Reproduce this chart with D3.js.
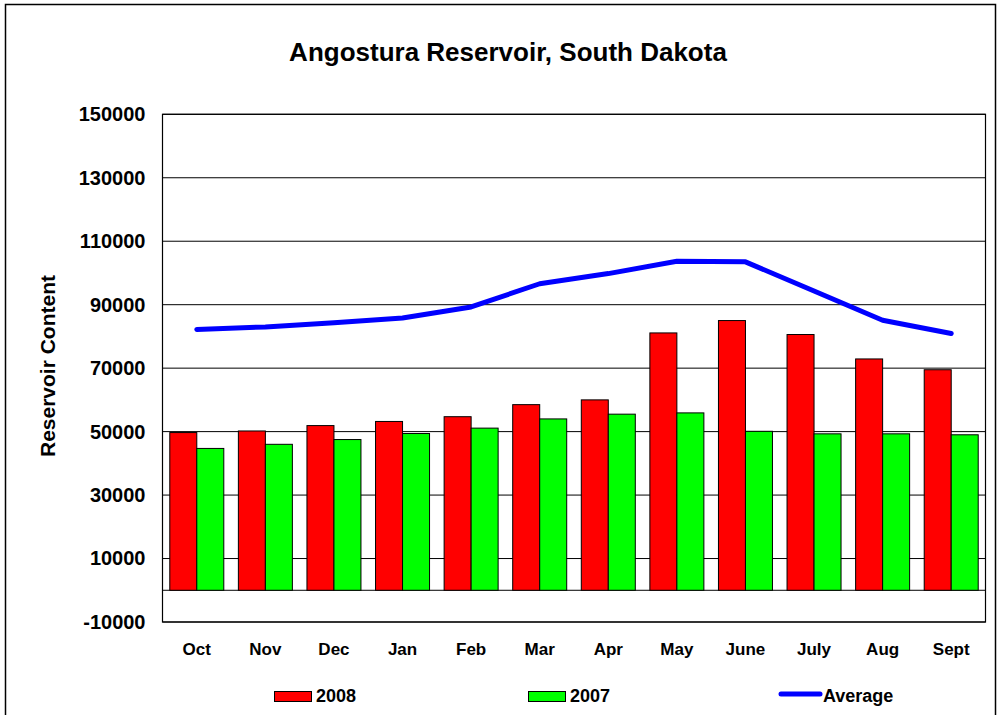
<!DOCTYPE html>
<html>
<head>
    <meta charset="utf-8">
    <script src="https://d3js.org/d3.v7.min.js"></script>
    <style>
        body { margin: 0; background: #fff; font-family: 'Liberation Sans', Arial, sans-serif; }
        svg { display: block; }
        text { font-weight: bold; fill: #000; }
    </style>
</head>
<body>
<div id="chart"></div>
<script>
    var months = ["Oct", "Nov", "Dec", "Jan", "Feb", "Mar", "Apr", "May", "June", "July", "Aug", "Sept"];
    var v2008 = [49700, 50200, 51900, 53200, 54700, 58500, 60000, 81100, 85000, 80600, 72900, 69500];
    var v2007 = [44700, 46000, 47500, 49400, 51100, 54000, 55500, 55900, 50100, 49300, 49300, 49000];
    var average = [82200, 83000, 84300, 85800, 89300, 96600, 99800, 103700, 103500, 94300, 85100, 80900];
    var yTicks = [-10000, 10000, 30000, 50000, 70000, 90000, 110000, 130000, 150000];
    var seriesNames = ["2008", "2007"];

    var W = 998, H = 715;
    var plot = {left: 162.5, right: 985.5, top: 114.3, bottom: 622};

    var svg = d3.select("#chart").append("svg")
        .attr("width", W)
        .attr("height", H);

    // outer frame
    svg.append("rect")
        .attr("x", 5.5).attr("y", 4.5)
        .attr("width", 990).attr("height", 720)
        .attr("fill", "none").attr("stroke", "#000").attr("stroke-width", 1.5);

    var x = d3.scaleBand().domain(months).range([plot.left, plot.right]).padding(0);
    var xs = d3.scaleBand().domain(seriesNames).range([0, x.bandwidth()]).paddingInner(0).paddingOuter(0.27);
    var y = d3.scaleLinear().domain([-10000, 150000]).range([plot.bottom, plot.top]);

    // grid lines
    svg.append("g").selectAll("line")
        .data(yTicks.concat([0]))
        .enter().append("line")
        .attr("x1", plot.left).attr("x2", plot.right)
        .attr("y1", function(d) { return y(d); })
        .attr("y2", function(d) { return y(d); })
        .attr("stroke", "#000").attr("stroke-width", 1);

    // plot border
    svg.append("rect")
        .attr("x", plot.left).attr("y", plot.top)
        .attr("width", plot.right - plot.left).attr("height", plot.bottom - plot.top)
        .attr("fill", "none").attr("stroke", "#000").attr("stroke-width", 1.2);

    // bars
    var colors = {"2008": "#ff0000", "2007": "#00ff00"};
    var rows = months.map(function(m, i) {
        return {month: m, vals: [{k: "2008", v: v2008[i]}, {k: "2007", v: v2007[i]}]};
    });
    var groups = svg.append("g").selectAll("g")
        .data(rows)
        .enter().append("g")
        .attr("transform", function(d) { return "translate(" + x(d.month) + ",0)"; });
    groups.selectAll("rect")
        .data(function(d) { return d.vals; })
        .enter().append("rect")
        .attr("x", function(d) { return xs(d.k); })
        .attr("width", xs.bandwidth())
        .attr("y", function(d) { return y(d.v); })
        .attr("height", function(d) { return y(0) - y(d.v); })
        .attr("fill", function(d) { return colors[d.k]; })
        .attr("stroke", "#000").attr("stroke-width", 1);

    // average line
    var line = d3.line()
        .x(function(d, i) { return x(months[i]) + x.bandwidth() / 2; })
        .y(function(d) { return y(d); });
    svg.append("path")
        .datum(average)
        .attr("d", line)
        .attr("fill", "none")
        .attr("stroke", "#0000ff")
        .attr("stroke-width", 5)
        .attr("stroke-linecap", "round")
        .attr("stroke-linejoin", "round");

    // y axis labels
    var yaxis = d3.axisLeft(y).tickValues(yTicks).tickSize(0).tickPadding(17)
        .tickFormat(function(d) { return String(d); });
    var ya = svg.append("g")
        .attr("transform", "translate(" + plot.left + ",0)")
        .call(yaxis);
    ya.select(".domain").remove();
    ya.selectAll("text")
        .attr("font-family", "'Liberation Sans', Arial, sans-serif")
        .attr("font-size", 20).attr("font-weight", "bold").attr("fill", "#000");

    // x axis labels
    var xaxis = d3.axisBottom(x).tickSize(0).tickPadding(21);
    var xa = svg.append("g")
        .attr("transform", "translate(0," + plot.bottom + ")")
        .call(xaxis);
    xa.select(".domain").remove();
    xa.selectAll("text")
        .attr("font-family", "'Liberation Sans', Arial, sans-serif")
        .attr("font-size", 17).attr("font-weight", "bold").attr("fill", "#000");

    // title
    svg.append("text")
        .attr("x", 508).attr("y", 61)
        .attr("text-anchor", "middle")
        .attr("font-size", 26)
        .text("Angostura Reservoir, South Dakota");

    // y axis title
    svg.append("text")
        .attr("transform", "translate(55,366) rotate(-90)")
        .attr("text-anchor", "middle")
        .attr("font-size", 21)
        .text("Reservoir Content");

    // legend
    var legend = svg.append("g");
    legend.append("rect").attr("x", 274.5).attr("y", 691.5).attr("width", 37).attr("height", 10)
        .attr("fill", colors["2008"]).attr("stroke", "#000").attr("stroke-width", 1);
    legend.append("text").attr("x", 316).attr("y", 702).attr("font-size", 18).text("2008");
    legend.append("rect").attr("x", 528.5).attr("y", 691.5).attr("width", 37).attr("height", 10)
        .attr("fill", colors["2007"]).attr("stroke", "#000").attr("stroke-width", 1);
    legend.append("text").attr("x", 570).attr("y", 702).attr("font-size", 18).text("2007");
    legend.append("line").attr("x1", 781).attr("x2", 820).attr("y1", 694).attr("y2", 694)
        .attr("stroke", "#0000ff").attr("stroke-width", 5).attr("stroke-linecap", "round");
    legend.append("text").attr("x", 823).attr("y", 702).attr("font-size", 18).text("Average");
</script>
</body>
</html>
